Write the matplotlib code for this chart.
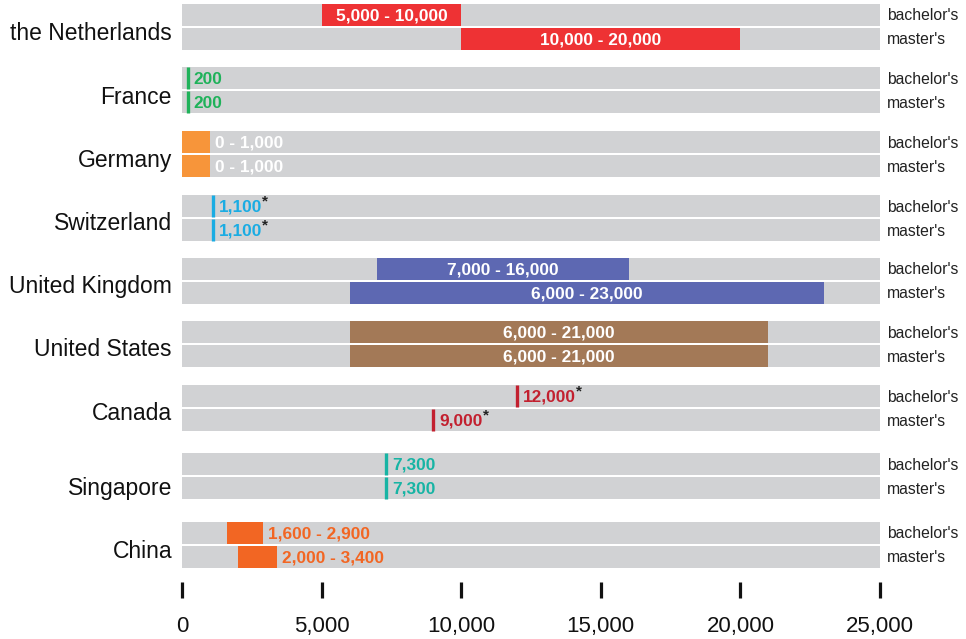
import matplotlib.pyplot as plt
from matplotlib.ticker import FuncFormatter

plt.rcParams['font.family'] = ['Liberation Sans', 'DejaVu Sans']

countries = ['the Netherlands', 'France', 'Germany', 'Switzerland', 'United Kingdom',
             'United States', 'Canada', 'Singapore', 'China']
# (low, high) tuition per degree; low == high means a single value
bachelor = [(5000, 10000), (200, 200), (0, 1000), (1100, 1100), (7000, 16000),
            (6000, 21000), (12000, 12000), (7300, 7300), (1600, 2900)]
master = [(10000, 20000), (200, 200), (0, 1000), (1100, 1100), (6000, 23000),
          (6000, 21000), (9000, 9000), (7300, 7300), (2000, 3400)]
starred = ['Switzerland', 'Canada']
colors = ['#ee3234', '#1fb25a', '#f7953a', '#1aace3', '#5d68b2',
          '#a37957', '#c2202f', '#17b4a4', '#f26623']
degrees = ["bachelor's", "master's"]
xticks = [0, 5000, 10000, 15000, 20000, 25000]
xmax = 25000

# top pixel row of each country group, and nudge of its name label
group_top = [4, 67, 131, 195, 258, 321, 385, 453, 522]
name_shift = [2, 3, 2, 2, 2, 2, 2, 8, 3]
bar_h = 22
row_step = 24
gray = '#d1d2d4'

fig = plt.figure(figsize=(9.66, 6.39), dpi=100)
ax = fig.add_axes([182 / 966, (639 - 582) / 639, 698 / 966, 582 / 639])
ax.set_xlim(0, xmax)
ax.set_ylim(582, 0)
for s in ax.spines.values():
    s.set_visible(False)
ax.set_yticks([])
ax.set_xticks(xticks)
ax.xaxis.set_major_formatter(FuncFormatter(lambda v, p: f'{int(v):,}'))
ax.tick_params(axis='x', direction='out', length=11.5, width=2.3, color='#111111',
               pad=13, labelsize=16, labelcolor='#111111')

def fmt(v):
    return f'{v:,}'

for i, name in enumerate(countries):
    col = colors[i]
    top = group_top[i]
    ax.annotate(name, xy=(0, top + 27 + name_shift[i]), xytext=(-10, 0),
                textcoords='offset pixels', ha='right', va='center', fontsize=16.5,
                color='#111111', annotation_clip=False)
    for j, (lo, hi) in enumerate([bachelor[i], master[i]]):
        yc = top + j * row_step + bar_h / 2
        ax.barh(yc, xmax, left=0, height=bar_h, color=gray, linewidth=0)
        ax.annotate(degrees[j], xy=(xmax, yc + 1), xytext=(7, 0), textcoords='offset pixels',
                    ha='left', va='center', fontsize=11.3, color='#222222',
                    annotation_clip=False)
        if lo == hi:
            # single value: thin marker line with coloured label after it
            ax.vlines(lo, yc - bar_h / 2, yc + bar_h / 2, color=col, linewidth=2.4)
            t = ax.annotate(fmt(lo), xy=(lo, yc + 1), xytext=(6, 0),
                            textcoords='offset pixels', ha='left', va='center',
                            fontsize=12.4, fontweight='bold', color=col)
            if name in starred:
                ax.annotate('*', xy=(1, 0.85), xycoords=t, ha='left', va='center',
                            fontsize=11, fontweight='bold', color='#222222')
            continue
        ax.barh(yc, hi - lo, left=lo, height=bar_h, color=col, linewidth=0)
        label = f'{fmt(lo)} - {fmt(hi)}'
        if hi - lo >= 5000:
            ax.text((lo + hi) / 2, yc + 1, label, ha='center', va='center',
                    fontsize=12.4, fontweight='bold', color='white')
        else:
            tcol = 'white' if lo == 0 else col
            ax.annotate(label, xy=(hi, yc + 1), xytext=(5, 0), textcoords='offset pixels',
                        ha='left', va='center', fontsize=12.4, fontweight='bold',
                        color=tcol)

fig.savefig('out.png', dpi=100)
